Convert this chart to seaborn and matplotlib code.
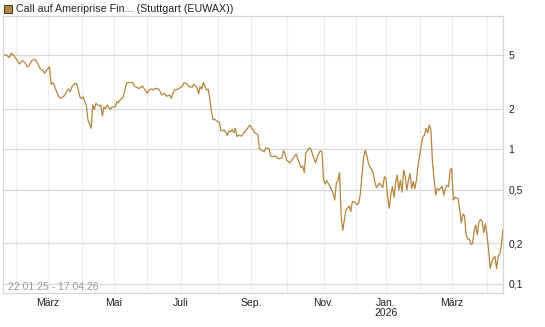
import numpy as np
import pandas as pd
import matplotlib
matplotlib.use("Agg")
import matplotlib.pyplot as plt
import seaborn as sns
from matplotlib.ticker import FixedLocator, FixedFormatter, NullLocator

# ---------------- data ----------------
title = "Call auf Ameriprise Fin... (Stuttgart (EUWAX))"
date_range_label = "22.01.25 - 17.04.26"
start_date = "2025-01-22"
end_date = "2026-04-17"
exchange_holidays = ["2025-04-18", "2025-04-21", "2025-05-01", "2025-12-24",
                     "2025-12-25", "2025-12-26", "2025-12-31", "2026-01-01",
                     "2026-04-03", "2026-04-06"]

# trading session number (0 = 22.01.25) and price (EUR)
session_no = [
    0, 2, 4, 5, 7, 9, 10, 11, 12, 14, 15, 16, 18, 20, 21, 23, 25, 26, 27, 29,
    30, 31, 32, 33, 35, 36, 38, 39, 40, 41, 42, 43, 45, 46, 47, 48, 49, 50, 52, 53,
    54, 55, 56, 57, 58, 60, 61, 62, 63, 64, 65, 67, 68, 70, 71, 72, 73, 75, 76, 77,
    78, 80, 81, 82, 84, 85, 87, 88, 90, 91, 93, 94, 95, 97, 98, 99, 101, 102, 104, 105,
    106, 107, 109, 110, 112, 113, 115, 116, 118, 119, 121, 122, 123, 124, 125, 127, 128, 129, 130, 131,
    132, 134, 135, 136, 137, 138, 140, 141, 142, 143, 144, 145, 146, 147, 149, 150, 152, 154, 156, 157,
    159, 160, 161, 163, 164, 166, 167, 168, 170, 171, 172, 174, 175, 176, 177, 179, 180, 182, 183, 184,
    186, 187, 188, 189, 191, 192, 194, 195, 196, 197, 198, 199, 200, 201, 202, 204, 205, 206, 207, 208,
    209, 210, 211, 212, 213, 214, 215, 216, 217, 218, 220, 221, 222, 223, 224, 225, 226, 227, 228, 229,
    231, 232, 233, 234, 235, 237, 238, 239, 240, 241, 242, 243, 244, 245, 246, 247, 248, 249, 250, 251,
    252, 253, 254, 255, 256, 257, 258, 259, 260, 261, 262, 263, 264, 265, 266, 267, 268, 269, 270, 271,
    272, 274, 275, 276, 277, 278, 279, 280, 281, 282, 284, 285, 286, 287, 288, 289, 290, 291, 292, 293,
    294, 295, 296, 297, 298, 299, 300, 301, 302, 303, 304, 305, 306, 307, 308, 309, 310, 311, 312,
]
price = [
    4.94, 5.00, 4.78, 5.15, 4.91, 4.54, 4.29, 4.39, 4.54, 4.34, 4.09, 4.14, 4.54, 4.65, 4.46, 3.98, 3.82, 3.65, 3.82, 4.09,
    3.03, 3.12, 2.99, 2.75, 2.43, 2.39, 2.47, 2.58, 2.72, 2.79, 2.67, 2.91, 3.08, 3.05, 2.75, 2.44, 2.38, 2.44, 2.10, 1.65,
    1.54, 1.43, 2.13, 1.97, 2.19, 2.09, 2.13, 1.76, 2.06, 2.00, 2.13, 1.97, 2.06, 2.06, 2.25, 2.21, 2.32, 2.44, 2.75, 3.08,
    3.12, 3.12, 3.12, 2.94, 2.85, 2.82, 2.94, 2.82, 2.60, 2.75, 2.80, 2.75, 2.83, 2.79, 2.69, 2.52, 2.60, 2.47, 2.52, 2.38,
    2.60, 2.75, 2.79, 2.82, 2.94, 3.12, 3.03, 2.91, 2.88, 3.03, 2.88, 2.57, 2.91, 2.79, 3.12, 2.75, 2.79, 2.38, 1.95, 1.65,
    1.67, 1.60, 1.58, 1.37, 1.37, 1.39, 1.27, 1.37, 1.35, 1.40, 1.32, 1.43, 1.24, 1.27, 1.25, 1.31, 1.40, 1.51, 1.39, 1.32,
    1.29, 1.01, 0.986, 0.957, 1.02, 1.01, 0.89, 0.88, 0.89, 0.87, 0.85, 0.86, 0.975, 0.92, 0.832, 0.79, 0.82, 0.89, 0.92, 0.84,
    0.73, 0.75, 0.67, 0.94, 1.02, 1.01, 0.86, 0.79, 0.87, 0.93, 0.97, 0.957, 0.60, 0.55, 0.585, 0.53, 0.50, 0.47, 0.42, 0.56,
    0.585, 0.67, 0.317, 0.25, 0.298, 0.354, 0.366, 0.38, 0.345, 0.41, 0.40, 0.386, 0.40, 0.465, 0.64, 0.86, 0.986, 0.90, 0.79, 0.74,
    0.67, 0.57, 0.52, 0.54, 0.56, 0.52, 0.625, 0.61, 0.445, 0.365, 0.46, 0.525, 0.44, 0.56, 0.644, 0.498, 0.59, 0.48, 0.70, 0.625,
    0.498, 0.59, 0.66, 0.51, 0.575, 0.51, 0.59, 0.763, 0.89, 1.07, 1.24, 1.27, 1.43, 1.32, 1.51, 1.39, 0.80, 0.60, 0.457, 0.51,
    0.498, 0.53, 0.457, 0.51, 0.54, 0.525, 0.70, 0.72, 0.42, 0.44, 0.43, 0.354, 0.283, 0.33, 0.32, 0.231, 0.215, 0.215, 0.197, 0.199,
    0.25, 0.274, 0.231, 0.29, 0.30, 0.29, 0.24, 0.28, 0.231, 0.18, 0.131, 0.145, 0.155, 0.16, 0.13, 0.162, 0.166, 0.195, 0.256,
]

y_ticks = [0.1, 0.2, 0.5, 1, 2, 5]
y_tick_labels = ["0,1", "0,2", "0,5", "1", "2", "5"]
month_names = {1: "Jan.", 3: "März", 5: "Mai", 7: "Juli", 9: "Sep.", 11: "Nov."}

# ---------------- trading calendar ----------------
bdays = pd.bdate_range(start_date, end_date)
bdays = bdays[~bdays.isin(pd.to_datetime(exchange_holidays))]
dates = bdays[session_no]
df = pd.DataFrame({"session": session_no, "date": dates, "price": price})

# first session of every month
first_of_month = pd.Series(np.arange(len(bdays)), index=bdays).groupby(
    [bdays.year, bdays.month]).first()
month_pos, month_lab = [], []
for (yr, mo), pos in first_of_month.items():
    if pos == 0:
        continue
    month_pos.append(pos)
    lab = month_names.get(mo, "")
    if mo == 1 and lab:
        lab = f"{lab}\n{yr}"
    month_lab.append(lab)

# ---------------- plot ----------------
sns.set_style("white")
plt.rcParams["font.family"] = ["Liberation Sans", "DejaVu Sans"]

W, H = 545, 327
fig = plt.figure(figsize=(W / 100, H / 100), dpi=100)
ax = fig.add_axes([3 / W, (H - 293) / H, 500 / W, 277 / H])

line_color = "#b5853c"
sns.lineplot(data=df, x="session", y="price", ax=ax, color=line_color,
             linewidth=0.9, estimator=None, sort=False)

ax.set_yscale("log")
ax.set_ylim(0.0857, 9.73)
ax.set_xlim(0, len(bdays) - 1)

ax.yaxis.set_major_locator(FixedLocator(y_ticks))
ax.yaxis.set_major_formatter(FixedFormatter(y_tick_labels))
ax.yaxis.set_minor_locator(NullLocator())
ax.yaxis.tick_right()
ax.tick_params(axis="y", which="major", length=0, pad=4, labelsize=7.5,
               labelcolor="#222222")

ax.xaxis.set_major_locator(FixedLocator(month_pos))
ax.xaxis.set_major_formatter(FixedFormatter(month_lab))
ax.xaxis.set_minor_locator(NullLocator())
ax.tick_params(axis="x", which="major", length=3, width=0.8, color="#dddddd",
               pad=0.5, labelsize=7.5, labelcolor="#222222")
for lbl in ax.get_xticklabels():
    lbl.set_linespacing(1.05)

ax.grid(False)
for p in month_pos:
    ax.axvline(p, color="#eeeeee", linewidth=0.9, zorder=0)
for t in y_ticks:
    ax.axhline(t, color="#d9d9d9", linewidth=0.9, zorder=0)

for s in ax.spines.values():
    s.set_color("#d6d6d6")
    s.set_linewidth(0.9)

ax.set_xlabel("")
ax.set_ylabel("")

ax.text(0.01, 0.004, date_range_label, transform=ax.transAxes,
        fontsize=7.5, color="#999999", ha="left", va="bottom")

# legend-like title
fig.patches.append(plt.Rectangle((4 / W, (H - 13) / H), 8 / W, 8 / H,
                                 transform=fig.transFigure, facecolor="#b5894b",
                                 edgecolor="#5a4020", linewidth=0.8))
fig.text(16 / W, (H - 9) / H, title, fontsize=7.7, color="#222222",
         ha="left", va="center")

fig.savefig("out.png", dpi=100)
